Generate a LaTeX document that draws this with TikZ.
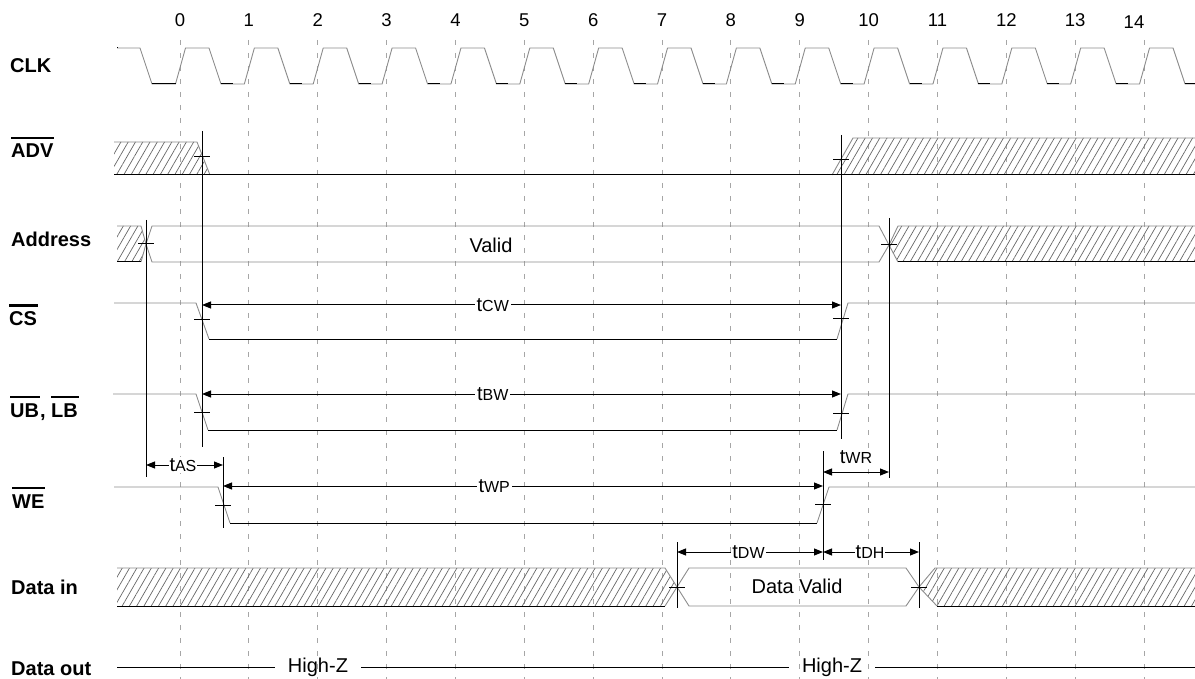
\documentclass[tikz,border=0pt]{standalone}
\usepackage{fontspec}
\setmainfont{Liberation Sans}
\usetikzlibrary{arrows.meta, patterns.meta}

% active-low signal name
\newcommand{\sigbar}[1]{\vbox{\hrule height 2.6pt\kern 5pt\hbox{#1\kern1pt}}}
% timing parameter label
\newcommand{\tparam}[1]{t{\fontsize{16}{18}\selectfont #1}}

\begin{document}
\begin{tikzpicture}[x=1pt, y=-1pt,
    % Styles
    wave/.style={draw=black!45, line width=0.9pt, line join=round},
    level/.style={draw=black, line width=1pt},
    hatch/.style={pattern={Lines[angle=60, distance=6.3pt, line width=0.7pt]}, pattern color=black!60},
    marker/.style={draw=black, line width=1pt},
    dim/.style={draw=black, line width=1pt, {Triangle[length=9pt, width=7pt]}-{Triangle[length=9pt, width=7pt]}},
    dim label/.style={fill=white, inner sep=2pt, font=\fontsize{20}{24}\selectfont},
    signal/.style={anchor=base west, inner sep=0pt, font=\bfseries\fontsize{20}{24}\selectfont},
    value/.style={font=\fontsize{20}{24}\selectfont},
    cycle label/.style={anchor=base, inner sep=0pt, font=\fontsize{18.5}{22}\selectfont},
    grid line/.style={draw=black!35, line width=0.9pt, dash pattern=on 5pt off 8pt},
]
    \useasboundingbox (0,0) rectangle (1195,679);
    \clip (0,0) rectangle (1195,679);

    % Clock cycle grid and numbers
    \foreach \k in {0,...,14} {
        \pgfmathsetmacro\xk{180+68.86*\k}
        \draw[grid line] (\xk,40) -- (\xk,679);
        \ifnum\k<14
            \node[cycle label] (cyc\k) at (\xk,27) {\k};
        \fi
    }
    \node[cycle label] (cyc14) at (1134,29) {14};

    % Signal names
    \node[signal] (clk) at (10,73) {CLK};
    \node[signal] (adv) at (11,158) {\sigbar{ADV}};
    \node[signal] (addr) at (11,247) {Address};
    \node[signal] (cs) at (9,326) {\sigbar{CS}};
    \node[signal] (ublb) at (10,417) {\sigbar{UB}, \sigbar{LB}};
    \node[signal] (we) at (12,508) {\sigbar{WE}};
    \node[signal] (din) at (11,594) {Data in};
    \node[signal] (dout) at (11,675) {Data out};

    % CLK
    \draw[wave] (117,48) -- (140,48) -- (152,84) -- (175.5,84)
        \foreach \k in {0,...,14} { -- ++(10,-36) -- ++(23.5,0) -- ++(12,36) -- ++(23.36,0) };
    \draw[level] (117,48) -- (118,48);
    \draw[level] (152,84) -- (176,84);
    \foreach \k in {0,...,14} {
        \pgfmathsetmacro\xk{180+68.86*\k}
        \draw[level] (\xk+41,84) -- (\xk+53,84);
    }

    % ADV
    \path[hatch] (114,142) -- (197,142) -- (210,175) -- (114,175) -- cycle;
    \draw[wave] (114,142) -- (197,142) -- (210,175);
    \path[hatch] (832,175) -- (853,138) -- (1195,138) -- (1195,175) -- cycle;
    \draw[wave] (832,175) -- (853,138) -- (1195,138);
    \draw[level] (114,175) -- (1195,175);

    % Address
    \path[hatch] (117,226) -- (141,226) -- (146,244) -- (141,262) -- (117,262) -- cycle;
    \draw[wave] (117,226) -- (141,226) -- (146,244) -- (141,262);
    \draw[level] (117,262) -- (141,262);
    \draw[wave] (146,244) -- (152,226) -- (879,226) -- (889,245) -- (879,262) -- (152,262) -- cycle;
    \node[value] (addr valid) at (491,245) {Valid};
    \path[hatch] (889,245) -- (898,226) -- (1195,226) -- (1195,262) -- (898,262) -- cycle;
    \draw[wave] (898,262) -- (889,245) -- (898,226) -- (1195,226);
    \draw[level] (898,262) -- (1195,262);

    % CS
    \draw[wave] (114,303) -- (196,303) -- (209,339);
    \draw[level] (209,339) -- (837,339);
    \draw[wave] (837,339) -- (848,303) -- (1195,303);

    % UB, LB
    \draw[wave] (113,394) -- (196,394) -- (208,430);
    \draw[level] (208,430) -- (837,430);
    \draw[wave] (837,430) -- (848,394) -- (1195,394);

    % WE
    \draw[wave] (114,487) -- (218,487) -- (230,523);
    \draw[level] (230,523) -- (817,523);
    \draw[wave] (817,523) -- (829,487) -- (1195,487);

    % Data in
    \path[hatch] (117,568) -- (665,568) -- (677,587) -- (665,606) -- (117,606) -- cycle;
    \draw[wave] (117,568) -- (665,568) -- (677,587) -- (665,606);
    \draw[level] (117,606) -- (665,606);
    \draw[wave] (677,587) -- (689,568) -- (906,568) -- (919,587) -- (906,606) -- (689,606) -- cycle;
    \node[value] (din valid) at (797,586) {Data Valid};
    \path[hatch] (919,587) -- (935,568) -- (1195,568) -- (1195,606) -- (937,606) -- cycle;
    \draw[wave] (937,606) -- (919,587) -- (935,568) -- (1195,568);
    \draw[level] (937,606) -- (1195,606);

    % Data out
    \coordinate (dout start) at (117,667);
    \coordinate (dout end) at (1195,667);
    \node[value, inner xsep=13pt] (hiz1) at (318,667) {High-Z};
    \node[value, inner xsep=13pt] (hiz2) at (832,667) {High-Z};
    \draw[level] (dout start) -- (hiz1) -- (hiz2) -- (dout end);

    % Timing markers
    \coordinate (addr start top) at (146,220);  \coordinate (addr start bot) at (146,477);
    \coordinate (adv low top) at (202,131);     \coordinate (adv low bot) at (202,447);
    \coordinate (cs high top) at (841,135);     \coordinate (cs high bot) at (841,439);
    \coordinate (addr end top) at (889,218);    \coordinate (addr end bot) at (889,478);
    \coordinate (we low top) at (223,457);      \coordinate (we low bot) at (223,528);
    \coordinate (we high top) at (823,451);     \coordinate (we high bot) at (823,560);
    \coordinate (din start top) at (677,542);   \coordinate (din start bot) at (677,608);
    \coordinate (din end top) at (919,542);     \coordinate (din end bot) at (919,608);
    \foreach \m in {addr start, adv low, cs high, addr end, we low, we high, din start, din end}
        \draw[marker] (\m\space top) -- (\m\space bot);

    % Crossing ticks
    \foreach \m/\y in {adv low/157, cs high/160, addr start/244, addr end/245, adv low/320, cs high/319,
                       adv low/412, cs high/413, we low/505, we high/504, din start/587, din end/587}
        \draw[marker] (\m\space top |- 0,\y) ++(-8,0) -- ++(16,0);

    % Timing parameters
    \draw[dim] (adv low top |- 0,305) -- node[dim label, pos=0.455] {\tparam{CW}\hspace{9pt}} (cs high top |- 0,305);
    \draw[dim] (adv low top |- 0,394) -- node[dim label, pos=0.455] {\tparam{BW}\hspace{9pt}} (cs high top |- 0,394);
    \draw[dim] (addr start top |- 0,465) -- node[dim label, pos=0.48, inner sep=1pt] {\tparam{AS}} (we low top |- 0,465);
    \draw[dim] (we low top |- 0,486) -- node[dim label, pos=0.452] {\tparam{WP}\hspace{9pt}} (we high top |- 0,486);
    \draw[dim] (we high top |- 0,472) -- node[dim label, above=7pt, inner sep=1pt] {\tparam{WR}} (addr end top |- 0,472);
    \draw[dim] (din start top |- 0,552) -- node[dim label, pos=0.49, inner sep=1pt] {\tparam{DW}} (we high top |- 0,552);
    \draw[dim] (we high top |- 0,552) -- node[dim label, pos=0.49, inner sep=1pt] {\tparam{DH}} (din end top |- 0,552);
\end{tikzpicture}
\end{document}
